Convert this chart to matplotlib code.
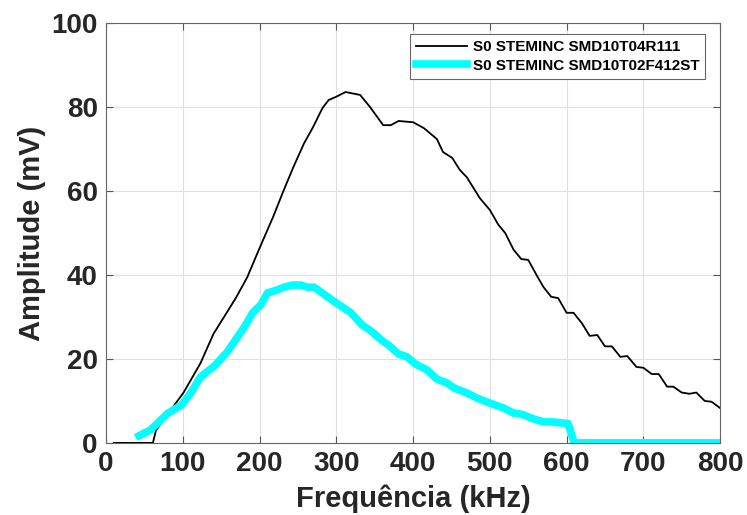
import matplotlib.pyplot as plt
import numpy as np

# Data
freq_r111 = [10, 61, 65, 101, 123, 140, 169, 184, 199, 218, 231, 244, 258, 269, 282, 290, 299, 312,
             331, 344, 361, 371, 381, 400, 414, 431, 439, 451, 461, 470, 487, 500, 511, 520, 531, 541,
             550, 563, 570, 580, 589, 600, 609, 620, 630, 640, 650, 659, 670, 679, 691, 700, 711, 720,
             731, 739, 750, 760, 769, 780, 789, 800]
amp_r111 = [0, 0, 3, 12, 19, 26, 34.5, 39.5, 46, 54, 60, 65.7, 71.4, 75, 79.8, 81.7, 82.4, 83.6,
            82.9, 80, 75.7, 75.7, 76.7, 76.4, 75, 72.4, 69.3, 67.9, 65, 63.3, 58.3, 55.5, 52, 50, 46, 43.8,
            43.6, 39.3, 37.1, 34.8, 34.5, 31, 31, 28.5, 25.5, 25.7, 23, 23, 20.5, 20.7, 18.1, 17.9, 16.4, 16.4,
            13.4, 13.4, 12, 11.7, 12, 10, 9.8, 8.3]

freq_f412 = [43, 58, 80, 98, 110, 123, 141, 158, 180, 191, 202, 210, 219, 232, 243, 254, 262, 271,
             297, 319, 334, 345, 360, 368, 381, 392, 403, 418, 431, 444, 453, 470, 483, 500, 518, 531,
             542, 557, 570, 581, 602, 610, 650, 700, 750, 800]
amp_f412 = [1.7, 3.1, 7, 9, 11.8, 15.7, 18.3, 21.7, 27.6, 31, 33, 35.7, 36.2, 37.1, 37.6, 37.6, 37.1, 37.1,
            33.7, 31, 28, 26.7, 24.3, 23.3, 21.2, 20.5, 18.8, 17.4, 15.2, 14.3, 13.1, 11.9, 10.7, 9.5, 8.3, 7.1,
            6.8, 5.7, 5, 5, 4.6, 0, 0, 0, 0, 0]

labels = ['S0 STEMINC SMD10T04R111', 'S0 STEMINC SMD10T02F412ST']

plt.rcParams['font.family'] = ['Liberation Sans', 'DejaVu Sans']
fig = plt.figure(figsize=(7.47, 5.15), dpi=100)
ax = fig.add_axes([0.142, 0.140, 0.822, 0.815])

ax.plot(freq_r111, amp_r111, color='black', lw=1.3, label=labels[0])
ax.plot(freq_f412, amp_f412, color='#00ffff', lw=5.5, label=labels[1], solid_joinstyle='round')

ax.set_xlim(0, 800)
ax.set_ylim(0, 100)
ax.set_xticks(np.arange(0, 801, 100))
ax.set_yticks(np.arange(0, 101, 20))
ax.grid(True, color='#e0e0e0', lw=0.8)
ax.set_axisbelow(True)
ax.tick_params(direction='in', length=5, width=0.8, color='#555555', top=True, right=True,
               labelsize=20, labelcolor='#262626', pad=6)
for lbl in ax.get_xticklabels() + ax.get_yticklabels():
    lbl.set_fontweight('bold')
for s in ax.spines.values():
    s.set_color('#666666')
    s.set_linewidth(0.8)

ax.set_xlabel('Frequência (kHz)', fontsize=21, fontweight='bold', color='#262626', labelpad=5)
ax.set_ylabel('Amplitude (mV)', fontsize=21, fontweight='bold', color='#262626', labelpad=4)

leg = ax.legend(loc='upper right', bbox_to_anchor=(0.976, 0.974), borderaxespad=0,
                prop={'weight': 'bold', 'size': 11}, fancybox=False, framealpha=1,
                edgecolor='#666666', handlelength=3.3, handletextpad=0.4, borderpad=0.4,
                labelspacing=0.3)
leg.get_frame().set_linewidth(0.8)

plt.savefig('out.png', dpi=100)
